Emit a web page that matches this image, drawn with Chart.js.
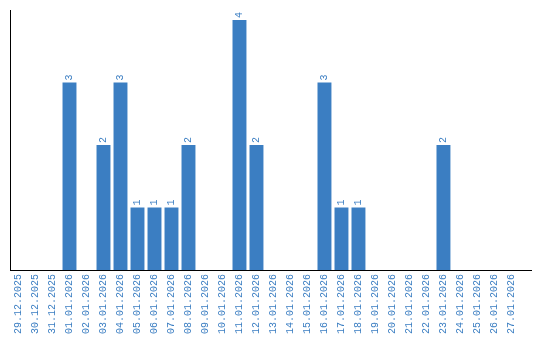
<!DOCTYPE html>
<html>
<head>
<meta charset="utf-8">
<script src="https://cdn.jsdelivr.net/npm/chart.js@4/dist/chart.umd.min.js"></script>
<style>
  html, body { margin: 0; padding: 0; background: #fff; }
  #wrap { width: 540px; height: 340px; }
</style>
</head>
<body>
<div id="wrap"><canvas id="myChart" width="540" height="340"></canvas></div>
<script>
const days = [
  "29.12.2025", "30.12.2025", "31.12.2025", "01.01.2026", "02.01.2026",
  "03.01.2026", "04.01.2026", "05.01.2026", "06.01.2026", "07.01.2026",
  "08.01.2026", "09.01.2026", "10.01.2026", "11.01.2026", "12.01.2026",
  "13.01.2026", "14.01.2026", "15.01.2026", "16.01.2026", "17.01.2026",
  "18.01.2026", "19.01.2026", "20.01.2026", "21.01.2026", "22.01.2026",
  "23.01.2026", "24.01.2026", "25.01.2026", "26.01.2026", "27.01.2026"
]
const counts = [
  0, 0, 0, 3, 0,
  2, 3, 1, 1, 1,
  2, 0, 0, 4, 2,
  0, 0, 0, 3, 1,
  1, 0, 0, 0, 0,
  2, 0, 0, 0, 0
]

const blue = '#3b7ec2'
const font = { family: 'Liberation Mono', size: 10 }

// value numbers written sideways above each bar
const valueLabels = {
  id: 'valueLabels',
  afterDatasetsDraw(chart) {
    const ctx = chart.ctx
    const meta = chart.getDatasetMeta(0)
    ctx.save()
    ctx.fillStyle = blue
    ctx.font = font.size + 'px ' + font.family
    ctx.textAlign = 'left'
    ctx.textBaseline = 'middle'
    meta.data.forEach((bar, i) => {
      if (!counts[i]) return
      ctx.save()
      ctx.translate(bar.x, bar.y - 2)
      ctx.rotate(-Math.PI / 2)
      ctx.fillText(String(counts[i]), 0, 0)
      ctx.restore()
    })
    ctx.restore()
  }
}

const ctx = document.getElementById('myChart')
new Chart(ctx, {
  type: 'bar',
  data: {
    datasets: [{
      data: days.map((d, i) => ({ x: i, y: counts[i] })),
      backgroundColor: blue,
      borderWidth: 0,
      categoryPercentage: 1,
      barPercentage: 0.82
    }]
  },
  options: {
    responsive: false,
    animation: false,
    layout: { padding: { left: 10, top: 10, right: 9, bottom: 0 } },
    plugins: {
      legend: { display: false },
      tooltip: { enabled: false }
    },
    scales: {
      x: {
        type: 'linear',
        offset: false,
        min: -0.5,
        max: 30.15,
        grid: { display: false, drawTicks: false },
        border: { display: true, color: '#000', width: 1 },
        afterBuildTicks: (s) => { s.ticks = days.map((d, i) => ({ value: i })) },
        afterFit: (s) => { s.height = 70 },
        ticks: {
          autoSkip: false,
          minRotation: 90,
          maxRotation: 90,
          padding: 4,
          color: blue,
          font: font,
          callback: (v) => days[v]
        }
      },
      y: {
        min: 0,
        max: 4.16,
        grid: { display: false, drawTicks: false },
        border: { display: true, color: '#000', width: 1 },
        ticks: { display: false },
        afterFit: (s) => { s.width = 0 }
      }
    }
  },
  plugins: [valueLabels]
})
</script>
</body>
</html>
